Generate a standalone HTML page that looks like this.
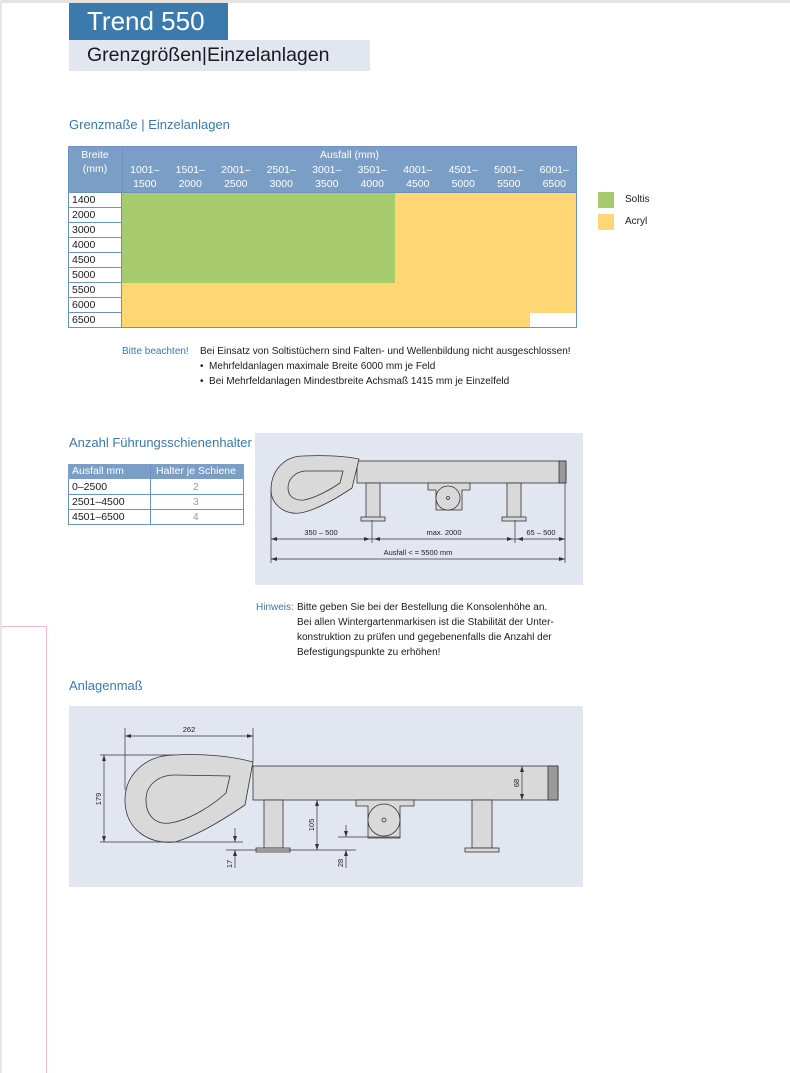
<!DOCTYPE html>
<html><head><meta charset="utf-8"><style>
*{margin:0;padding:0;box-sizing:border-box}
body{width:790px;height:1073px;position:relative;background:#fff;font-family:"Liberation Sans",sans-serif;color:#1a1a1a;overflow:hidden}
.a{position:absolute;white-space:nowrap}
.h{color:#3a78b0;font-size:13px}
.t{font-size:10px;line-height:15px}
.c{position:absolute;text-align:center;color:#fff;font-size:10.5px;line-height:14px}
.r{position:absolute;left:68px;width:54px;height:15px;border:1px solid #6c93bf;border-top:none;background:#fff;font-size:10.5px;line-height:14px;padding-left:3px}
</style></head><body>
<div class="a" style="left:0;top:0;width:790px;height:3px;background:#e3e3e3"></div>
<div class="a" style="left:0;top:0;width:2px;height:1073px;background:#e6e6e6"></div>
<div class="a" style="left:1px;top:626px;width:46px;height:1px;background:#f7b6d6"></div>
<div class="a" style="left:46px;top:626px;width:1px;height:447px;background:#f7b6d6"></div>

<div class="a" style="left:69px;top:3px;width:159px;height:37px;background:#3b7aad;color:#fff;font-size:26px;line-height:37px;padding-left:18px">Trend 550</div>
<div class="a" style="left:69px;top:40px;width:301px;height:31px;background:#e1e6f1;font-size:19.5px;line-height:31px;padding-left:18px">Grenzgrößen|Einzelanlagen</div>

<div class="a h" style="left:69px;top:117px">Grenzmaße | Einzelanlagen</div>

<!-- table 1 -->
<div class="a" style="left:68px;top:146px;width:509px;height:47px;background:#7a9ec5;border:1px solid #6c93bf"></div>
<div class="a" style="left:122px;top:146px;width:1px;height:47px;background:#6c93bf"></div>
<div class="c" style="left:68px;top:148px;width:54px">Breite<br>(mm)</div>
<div class="c" style="left:122px;top:148px;width:455px">Ausfall (mm)</div>
<div class="a" style="left:122px;top:163px;width:455px;height:30px">
<div class="c" style="left:0;top:0;width:45.5px">1001–<br>1500</div>
<div class="c" style="left:45.5px;top:0;width:45.5px">1501–<br>2000</div>
<div class="c" style="left:91px;top:0;width:45.5px">2001–<br>2500</div>
<div class="c" style="left:136.5px;top:0;width:45.5px">2501–<br>3000</div>
<div class="c" style="left:182px;top:0;width:45.5px">3001–<br>3500</div>
<div class="c" style="left:227.5px;top:0;width:45.5px">3501–<br>4000</div>
<div class="c" style="left:273px;top:0;width:45.5px">4001–<br>4500</div>
<div class="c" style="left:318.5px;top:0;width:45.5px">4501–<br>5000</div>
<div class="c" style="left:364px;top:0;width:45.5px">5001–<br>5500</div>
<div class="c" style="left:409.5px;top:0;width:45.5px">6001–<br>6500</div>
</div>
<div class="a" style="left:122px;top:193px;width:455px;height:135px;background:#fed674;border-bottom:1px solid #6c93bf;border-right:1px solid #6c93bf"></div>
<div class="a" style="left:122px;top:193px;width:273px;height:90px;background:#a7ca6d"></div>
<div class="a" style="left:530px;top:313px;width:46px;height:14px;background:#fff"></div>
<div class="r" style="top:193px">1400</div>
<div class="r" style="top:208px">2000</div>
<div class="r" style="top:223px">3000</div>
<div class="r" style="top:238px">4000</div>
<div class="r" style="top:253px">4500</div>
<div class="r" style="top:268px">5000</div>
<div class="r" style="top:283px">5500</div>
<div class="r" style="top:298px">6000</div>
<div class="r" style="top:313px">6500</div>

<div class="a" style="left:598px;top:192px;width:16px;height:16px;background:#a7ca6d"></div>
<div class="a t" style="left:625px;top:192px">Soltis</div>
<div class="a" style="left:598px;top:214px;width:16px;height:16px;background:#fed674"></div>
<div class="a t" style="left:625px;top:214px">Acryl</div>

<div class="a t" style="left:122px;top:344px;color:#3a78b0">Bitte beachten!</div>
<div class="a t" style="left:200px;top:344px">Bei Einsatz von Soltistüchern sind Falten- und Wellenbildung nicht ausgeschlossen!</div>
<div class="a t" style="left:200px;top:359px">• &nbsp;Mehrfeldanlagen maximale Breite 6000 mm je Feld</div>
<div class="a t" style="left:200px;top:374px">• &nbsp;Bei Mehrfeldanlagen Mindestbreite Achsmaß 1415 mm je Einzelfeld</div>

<div class="a h" style="left:69px;top:435px">Anzahl Führungsschienenhalter</div>
<div class="a" style="left:68px;top:464px;width:176px;height:61px;border:1px solid #6c93bf"></div>
<div class="a" style="left:68px;top:464px;width:176px;height:15px;background:#7a9ec5;color:#fff;font-size:10.5px;line-height:15px">
<span class="a" style="left:4px">Ausfall mm</span><span class="a" style="left:88px">Halter je Schiene</span></div>
<div class="a" style="left:150px;top:464px;width:1px;height:61px;background:#6c93bf"></div>
<div class="a" style="left:68px;top:494px;width:176px;height:1px;background:#6c93bf"></div>
<div class="a" style="left:68px;top:509px;width:176px;height:1px;background:#6c93bf"></div>
<div class="a t" style="left:72px;top:480px;font-size:10.5px">0–2500</div>
<div class="a t" style="left:72px;top:495px;font-size:10.5px">2501–4500</div>
<div class="a t" style="left:72px;top:510px;font-size:10.5px">4501–6500</div>
<div class="a t" style="left:193px;top:480px;color:#999">2</div>
<div class="a t" style="left:193px;top:495px;color:#999">3</div>
<div class="a t" style="left:193px;top:510px;color:#999">4</div>

<svg class="a" style="left:255px;top:433px" width="328" height="152" viewBox="255 433 328 152">
<rect x="255" y="433" width="328" height="152" fill="#e1e6f1"/>
<g stroke="#333" stroke-width="0.8" fill="#d9d9d9">
<rect x="357" y="461" width="209" height="22"/>
<rect x="559" y="461" width="7" height="22" fill="#9a9a9a"/>
<rect x="366" y="483" width="14" height="35"/>
<rect x="507" y="483" width="14" height="35"/>
<rect x="361" y="517" width="24" height="4"/>
<rect x="502" y="517" width="24" height="4"/>
<path d="M428,483 L470,483 L470,490 L462,490 L462,510 L436,510 L436,490 L428,490 Z"/>
<circle cx="448" cy="498" r="12"/>
<circle cx="448" cy="498" r="1.5" fill="none"/>
<path d="M359,459 L352,488 C340,496 318,510 300,513 C283,515 271,503 271,490 C271,470 285,456 303,456 C325,455 345,456 359,459 Z"/>
<path d="M343,471 L340,483 C330,490 315,498 304,500 C293,501 288,495 288,488 C288,479 295,472 305,471 Z"/>
</g>
<g stroke="#333" stroke-width="0.7" fill="none">
<line x1="271" y1="490" x2="271" y2="563"/><line x1="372" y1="520" x2="372" y2="543"/>
<line x1="515" y1="520" x2="515" y2="543"/><line x1="565" y1="483" x2="565" y2="563"/>
<line x1="271" y1="539" x2="565" y2="539"/><line x1="271" y1="559" x2="565" y2="559"/>
</g>
<g fill="#333">
<path d="M271,539 l6,-2 v4z M370,539 l-6,-2 v4z M374,539 l6,-2 v4z M513,539 l-6,-2 v4z M517,539 l6,-2 v4z M565,539 l-6,-2 v4z M271,559 l6,-2 v4z M565,559 l-6,-2 v4z"/>
</g>
<g font-size="7.5" fill="#222" text-anchor="middle" font-family="Liberation Sans,sans-serif">
<text x="321" y="535">350 – 500</text><text x="444" y="535">max. 2000</text><text x="541" y="535">65 – 500</text>
<text x="418" y="555">Ausfall &lt; = 5500 mm</text>
</g>
</svg>

<div class="a t" style="left:256px;top:600px;color:#3a78b0">Hinweis:</div>
<div class="a t" style="left:297px;top:600px">Bitte geben Sie bei der Bestellung die Konsolenhöhe an.</div>
<div class="a t" style="left:297px;top:615px">Bei allen Wintergartenmarkisen ist die Stabilität der Unter-</div>
<div class="a t" style="left:297px;top:630px">konstruktion zu prüfen und gegebenenfalls die Anzahl der</div>
<div class="a t" style="left:297px;top:645px">Befestigungspunkte zu erhöhen!</div>

<div class="a h" style="left:69px;top:678px">Anlagenmaß</div>

<svg class="a" style="left:69px;top:706px" width="514" height="181" viewBox="69 706 514 181">
<rect x="69" y="706" width="514" height="181" fill="#e1e6f1"/>
<g stroke="#333" stroke-width="0.8" fill="#d9d9d9">
<rect x="253" y="766" width="305" height="34"/>
<rect x="548" y="766" width="10" height="34" fill="#9a9a9a"/>
<rect x="264" y="800" width="19" height="48"/>
<rect x="472" y="800" width="20" height="48"/>
<rect x="256" y="848" width="34" height="4"/>
<rect x="465" y="848" width="34" height="4"/>
<path d="M356,800 L414,800 L414,806 L400,806 L400,838 L368,838 L368,806 L356,806 Z"/>
<circle cx="384" cy="820" r="16"/>
<circle cx="384" cy="820" r="2" fill="none"/>
<path d="M253,762 L245,805 C230,815 200,835 175,842 C150,845 125,830 125,800 C125,775 145,755 175,755 C205,753 235,757 253,762 Z"/>
<path d="M230,776 L226,793 C213,805 190,820 170,823 C155,825 146,815 146,800 C146,785 158,775 175,775 Z"/>
</g>
<g stroke="#333" stroke-width="0.7" fill="none">
<line x1="125" y1="728" x2="125" y2="790"/><line x1="253" y1="728" x2="253" y2="762"/>
<line x1="125" y1="736" x2="253" y2="736"/>
<line x1="100" y1="755" x2="175" y2="755"/><line x1="100" y1="842" x2="243" y2="842"/>
<line x1="104" y1="755" x2="104" y2="842"/>
<line x1="522" y1="766" x2="522" y2="800"/>
<line x1="317" y1="800" x2="317" y2="850"/>
<line x1="226" y1="850" x2="356" y2="850"/>
<line x1="235" y1="828" x2="235" y2="842"/><line x1="235" y1="850" x2="235" y2="868"/>
<line x1="338" y1="837" x2="400" y2="837"/>
<line x1="346" y1="825" x2="346" y2="837"/><line x1="346" y1="850" x2="346" y2="868"/>
</g>
<g fill="#333">
<path d="M125,736 l6,-2 v4z M253,736 l-6,-2 v4z M104,755 l-2,6 h4z M104,842 l-2,-6 h4z M522,766 l-2,6 h4z M522,800 l-2,-6 h4z M317,800 l-2,6 h4z M317,850 l-2,-6 h4z M235,842 l-2,-6 h4z M235,850 l-2,6 h4z M346,837 l-2,-6 h4z M346,850 l-2,6 h4z"/>
</g>
<g font-size="7.5" fill="#222" text-anchor="middle" font-family="Liberation Sans,sans-serif">
<text x="189" y="732">262</text>
<text transform="translate(101,799) rotate(-90)">179</text>
<text transform="translate(519,783) rotate(-90)">68</text>
<text transform="translate(314,825) rotate(-90)">105</text>
<text transform="translate(232,864) rotate(-90)">17</text>
<text transform="translate(343,863) rotate(-90)">28</text>
</g>
</svg>
</body></html>
